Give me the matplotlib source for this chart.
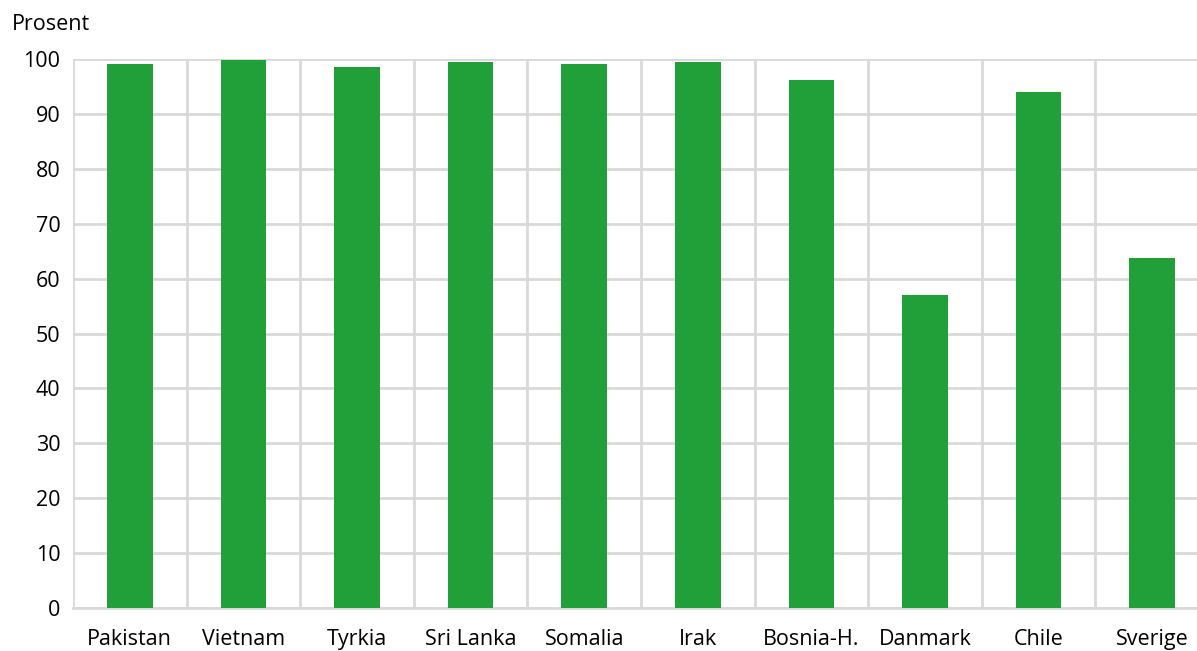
import matplotlib.pyplot as plt
import numpy as np

plt.rcParams["font.family"] = ["Open Sans", "DejaVu Sans"]

countries = ["Pakistan", "Vietnam", "Tyrkia", "Sri Lanka", "Somalia",
             "Irak", "Bosnia-H.", "Danmark", "Chile", "Sverige"]
values = [99.1, 99.9, 98.5, 99.5, 99.1, 99.4, 96.2, 57.0, 94.0, 63.8]
yticks = [0, 10, 20, 30, 40, 50, 60, 70, 80, 90, 100]

grid_col = "#d9d9d9"
bar_col = "#21a03a"

fig = plt.figure(figsize=(11.97, 6.51), dpi=100)
ax = fig.add_axes([73 / 1197, 1 - 608 / 651, (1209 - 73) / 1197, (608 - 59) / 651])

x = np.arange(len(countries))
ax.bar(x, values, width=0.4, color=bar_col, zorder=3)

ax.set_xlim(-0.5, len(countries) - 0.5)
ax.set_ylim(0, 100)
ax.set_yticks(yticks)
ax.set_xticks(x)
ax.set_xticklabels(countries)

# vertical separators between categories
ax.set_xticks(np.arange(-0.5, len(countries)), minor=True)
ax.grid(True, which="minor", axis="x", color=grid_col, lw=2, zorder=0)
ax.grid(True, which="major", axis="y", color=grid_col, lw=2, zorder=0)

for s in ["top", "right", "left"]:
    ax.spines[s].set_visible(False)
ax.spines["bottom"].set_color(grid_col)
ax.spines["bottom"].set_linewidth(2)

ax.tick_params(axis="both", which="both", length=0, labelsize=15.5, colors="black")
ax.tick_params(axis="x", which="major", pad=15)
ax.tick_params(axis="y", pad=9)

fig.text(12 / 1197, 1 - 25 / 651, "Prosent", fontsize=15.5, va="center", ha="left")

fig.savefig("out.png", dpi=100)
